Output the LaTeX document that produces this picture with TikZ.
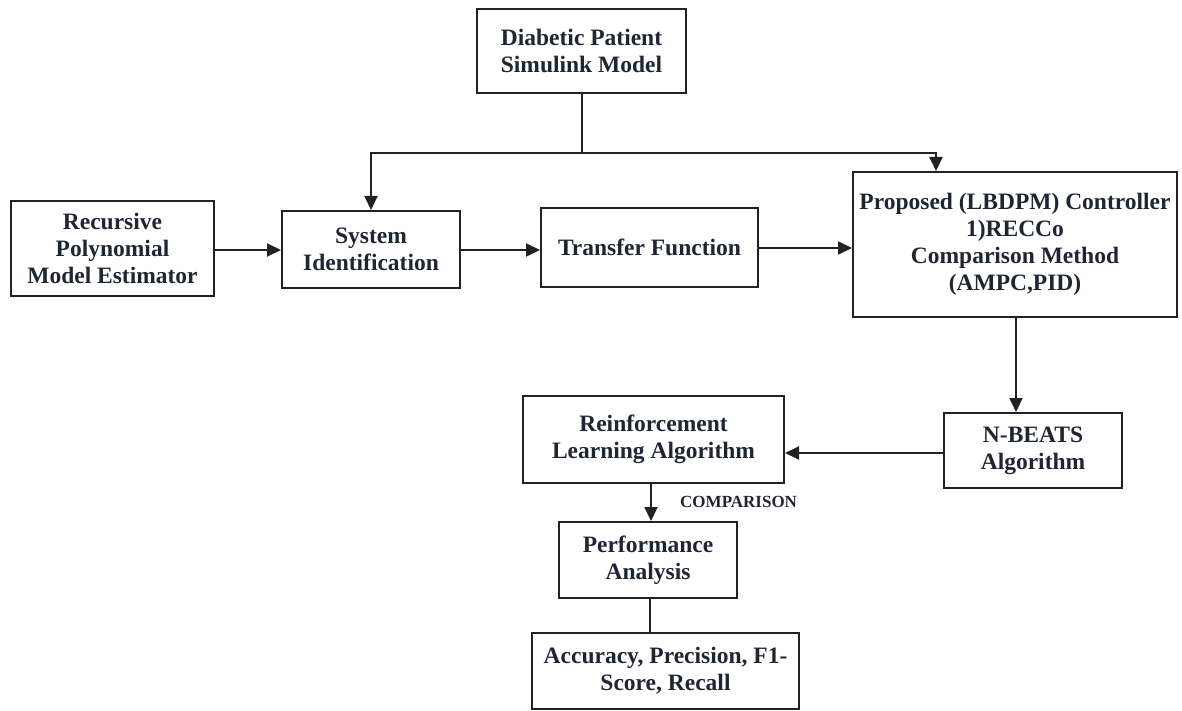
\documentclass[tikz,border=0pt]{standalone}
\usepackage{fontspec}
\setmainfont{Liberation Serif}
\usetikzlibrary{arrows.meta}
\definecolor{ink}{HTML}{1F2633}
\definecolor{wire}{HTML}{222222}
\tikzset{
  blk/.style={draw=wire, line width=2pt, fill=white, align=center,
    font=\fontsize{23.5}{27}\selectfont\bfseries, text=ink, inner sep=0pt},
  flow/.style={draw=wire, line width=2pt, -{Triangle[length=14pt,width=13pt]}},
  link/.style={draw=wire, line width=2pt},
  tag/.style={font=\fontsize{17}{19}\selectfont\bfseries, text=ink, inner sep=0pt}
}
\begin{document}
\begin{tikzpicture}[x=1pt,y=-1pt]
\useasboundingbox (0,0) rectangle (1182,711);

% blocks
\node[blk, minimum width=209pt, minimum height=84pt] (diab) at (581.5,51) {Diabetic Patient\\Simulink Model};
\node[blk, minimum width=203pt, minimum height=95pt] (rec) at (112.5,248.5) {Recursive\\Polynomial\\Model Estimator};
\node[blk, minimum width=178pt, minimum height=77pt] (sysid) at (371,249.5) {System\\Identification};
\node[blk, minimum width=217pt, minimum height=79pt] (tf) at (649.5,247.5) {Transfer Function};
\node[blk, minimum width=324pt, minimum height=145pt] (prop) at (1015,244.5) {Proposed (LBDPM) Controller\\1)RECCo\\Comparison Method\\(AMPC,PID)};
\node[blk, minimum width=178pt, minimum height=75pt] (nb) at (1033,450.5) {N-BEATS\\Algorithm};
\node[blk, minimum width=261pt, minimum height=87pt] (rl) at (653.5,439.5) {Reinforcement\\Learning Algorithm};
\node[blk, minimum width=178pt, minimum height=76pt] (perf) at (648,560) {Performance\\Analysis};
\node[blk, minimum width=267pt, minimum height=76pt] (acc) at (665.5,671) {Accuracy, Precision, F1-\\Score, Recall};

% split point below the patient model
\coordinate (split) at (diab.south |- 0,153);
\coordinate (splitL) at (sysid.north |- split);
\coordinate (splitR) at (936,153);

\draw[link] (diab.south) -- (split);
\draw[flow] (split) -- (splitL) -- (sysid.north);
\draw[flow] (split) -- (splitR) -- (splitR |- prop.north);

% main chain
\draw[flow] (rec.east |- 0,250) -- (sysid.west |- 0,250);
\draw[flow] (sysid.east |- 0,250) -- (tf.west |- 0,250);
\draw[flow] (tf.east |- 0,248) -- (prop.west |- 0,248);
\draw[flow] (1016,0 |- prop.south) -- (1016,0 |- nb.north);
\draw[flow] (nb.west |- 0,453) -- (rl.east |- 0,453);
\draw[flow] (651,0 |- rl.south) -- (651,0 |- perf.north);
\draw[link] (650,0 |- perf.south) -- (650,0 |- acc.north);

\node[tag, anchor=west] (cmp) at (680,502) {COMPARISON};
\end{tikzpicture}
\end{document}
